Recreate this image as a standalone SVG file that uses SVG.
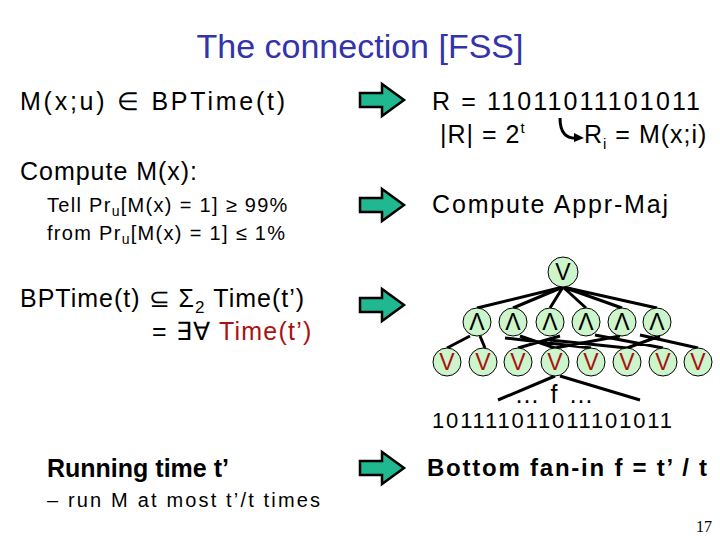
<svg xmlns="http://www.w3.org/2000/svg" width="720" height="540" viewBox="0 0 720 540">
<defs>
<style>
text{font-family:"Liberation Sans",Arial,sans-serif;fill:#000}
.t{font-size:25px}
.s{font-size:20px}
.n{fill:#ccf5cc;stroke:#000;stroke-width:1}
.w{stroke:#000;stroke-width:3;fill:none}
.g{font-size:23px;text-anchor:middle}
</style>
<path id="arr" d="M0,-7 H22 V-16 L44,0 L22,16 V7 H0 Z" fill="#20b890" stroke="#000" stroke-width="2.5"/>
</defs>
<rect width="720" height="540" fill="#fff"/>
<text x="360" y="58" text-anchor="middle" style="font-size:34px;fill:#3333aa">The connection [FSS]</text>
<text class="t" x="20" y="110" textLength="265" lengthAdjust="spacing">M(x;u) ∈ BPTime(t)</text>
<text class="t" x="20" y="180" textLength="177" lengthAdjust="spacing">Compute M(x):</text>
<text class="s" x="47" y="212" letter-spacing="1.3">Tell Pr<tspan font-size="14" dy="4">u</tspan><tspan dy="-4">[M(x) = 1] ≥ 99%</tspan></text>
<text class="s" x="47" y="240" letter-spacing="1.3">from Pr<tspan font-size="14" dy="4">u</tspan><tspan dy="-4">[M(x) = 1] ≤ 1%</tspan></text>
<text class="t" x="20" y="307" letter-spacing="1">BPTime(t) ⊆ Σ<tspan font-size="17" dy="6">2</tspan><tspan dy="-6"> Time(t’)</tspan></text>
<text class="t" x="152" y="340" letter-spacing="1.2">= ∃∀ <tspan style="fill:#aa1111">Time(t’)</tspan></text>
<text x="47" y="477" style="font-size:25px;font-weight:bold">Running time t’</text>
<text class="s" x="47" y="507" textLength="273" lengthAdjust="spacing">– run M at most t’/t times</text>
<g id="arrows">
<use href="#arr" x="360" y="100"/>
<use href="#arr" x="360" y="205"/>
<use href="#arr" x="360" y="305"/>
<use href="#arr" x="360" y="468"/>
</g>
<text class="t" x="432" y="110" textLength="268" lengthAdjust="spacing">R = 11011011101011</text>
<text class="t" x="440" y="143" letter-spacing="1">|R| = 2<tspan font-size="15" dy="-10">t</tspan></text>
<path d="M560,118 Q560,140 578,138" class="w" stroke-width="2"/>
<path d="M574,133 L584,138 L574,142 Z" fill="#000"/>
<text class="t" x="584" y="143" letter-spacing="1">R<tspan font-size="15" dy="6">i</tspan><tspan dy="-6"> = M(x;i)</tspan></text>
<text class="t" x="432" y="213" textLength="236" lengthAdjust="spacing">Compute Appr-Maj</text>
<g id="connectors" class="w">
<path d="M563,287 L477,308 M563,287 L513,308 M563,287 L550,308 M563,287 L586,308 M563,287 L622,308 M563,287 L657,308"/>
<path d="M470,336 L447,348 M480,336 L485,348 M520,336 L555,348 M505,338 L591,348 M560,336 L518,348 M595,335 L663,348 M620,336 L555,348 M640,335 L698,348 M660,336 L627,348 M550,340 L627,348"/>
<path d="M555,376 L498,400 M560,376 L640,400"/>
</g>
<g id="top"><circle class="n" cx="563" cy="272" r="15"/><text class="g" x="563" y="280">V</text></g>
<g id="and">
<circle class="n" cx="477" cy="322" r="14"/><text class="g" x="477" y="330">Λ</text>
<circle class="n" cx="513" cy="322" r="14"/><text class="g" x="513" y="330">Λ</text>
<circle class="n" cx="550" cy="322" r="14"/><text class="g" x="550" y="330">Λ</text>
<circle class="n" cx="586" cy="322" r="14"/><text class="g" x="586" y="330">Λ</text>
<circle class="n" cx="622" cy="322" r="14"/><text class="g" x="622" y="330">Λ</text>
<circle class="n" cx="657" cy="322" r="14"/><text class="g" x="657" y="330">Λ</text>
</g>
<g id="or">
<circle class="n" cx="447" cy="362" r="14"/><text class="g" x="447" y="370" style="fill:#aa1111">V</text>
<circle class="n" cx="483" cy="362" r="14"/><text class="g" x="483" y="370" style="fill:#aa1111">V</text>
<circle class="n" cx="518" cy="362" r="14"/><text class="g" x="518" y="370" style="fill:#aa1111">V</text>
<circle class="n" cx="555" cy="362" r="14"/><text class="g" x="555" y="370" style="fill:#aa1111">V</text>
<circle class="n" cx="591" cy="362" r="14"/><text class="g" x="591" y="370" style="fill:#aa1111">V</text>
<circle class="n" cx="627" cy="362" r="14"/><text class="g" x="627" y="370" style="fill:#aa1111">V</text>
<circle class="n" cx="663" cy="362" r="14"/><text class="g" x="663" y="370" style="fill:#aa1111">V</text>
<circle class="n" cx="698" cy="362" r="14"/><text class="g" x="698" y="370" style="fill:#aa1111">V</text>
</g>
<text class="t" x="555" y="403" text-anchor="middle" letter-spacing="2">… f …</text>
<text x="432" y="428" style="font-size:22px" textLength="240" lengthAdjust="spacing">101111011011101011</text>
<text x="427" y="476" style="font-size:24px;font-weight:bold" textLength="280" lengthAdjust="spacing">Bottom fan-in f = t’ / t</text>
<text x="712" y="532" text-anchor="end" style="font-family:'Liberation Serif',serif;font-size:16px">17</text>
</svg>
